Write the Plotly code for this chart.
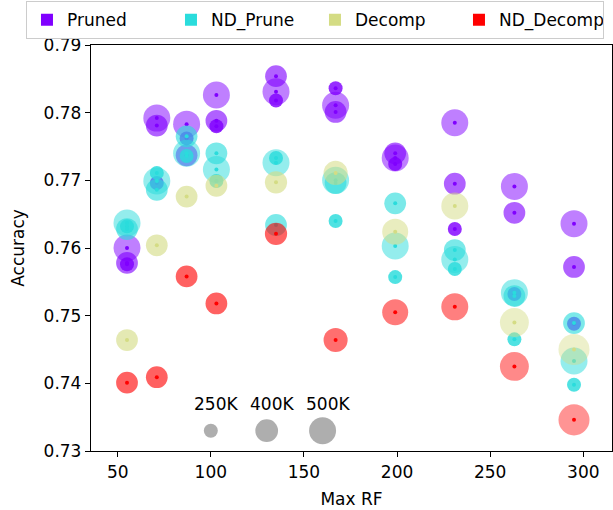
import numpy as np
import plotly.graph_objects as go

# ---------------- data ----------------
max_rf = [55, 71, 87, 103, 135, 167, 199, 231, 263, 295]

# Pruned: three configurations per Max RF (params in K)
pruned_x = [55, 55, 55, 71, 71, 71, 87, 87, 87, 103, 103, 103, 135, 135, 135,
            167, 167, 167, 199, 199, 199, 231, 231, 231, 263, 263, 263, 295, 295, 295]
pruned_acc = [0.7600, 0.7578, 0.7576, 0.7792, 0.7781, 0.7696, 0.7783, 0.7737, 0.7762,
              0.7826, 0.7788, 0.7780, 0.7831, 0.7854, 0.7818, 0.7811, 0.7801, 0.7836,
              0.7733, 0.7740, 0.7724, 0.7785, 0.7695, 0.7628, 0.7691, 0.7652, 0.7532,
              0.7636, 0.7572, 0.7488]
pruned_params = [500, 380, 250] * 10

nd_prune_x = pruned_x
nd_prune_acc = [0.7637, 0.7628, 0.7632, 0.7699, 0.7686, 0.7711, 0.7740, 0.7765, 0.7736,
                0.7716, 0.7740, 0.7699, 0.7726, 0.7634, 0.7733, 0.7700, 0.7696, 0.7640,
                0.7603, 0.7666, 0.7557, 0.7583, 0.7597, 0.7569, 0.7534, 0.7529, 0.7465,
                0.7433, 0.7489, 0.7398]
nd_prune_params = [500, 380, 250] * 10

decomp_acc = [0.7464, 0.7604, 0.7676, 0.7692, 0.7697, 0.7711, 0.7624, 0.7662, 0.7490, 0.7450]
nd_decomp_acc = [0.7401, 0.7409, 0.7558, 0.7518, 0.7621, 0.7464, 0.7505, 0.7513, 0.7425, 0.7346]
decomp_params = [380, 380, 380, 380, 390, 430, 475, 500, 550, 610]

series_names = ["Pruned", "ND_Prune", "Decomp", "ND_Decomp"]
series_colors = ["#8000ff", "#2adcdc", "#d4dc84", "#ff0000"]

size_legend_labels = ["250K", "400K", "500K"]
size_legend_params = [250, 400, 500]
size_legend_x = [100, 130, 160]
size_legend_y = 0.733

# ---------------- helpers ----------------
def diam(p):
    p = np.asarray(p, dtype=float)
    return np.sqrt(196 + 2.132 * (p - 250))

def alpha(p):
    d = diam(p)
    return np.interp(d, [14, 21.7, 27, 31], [0.82, 0.62, 0.5, 0.42])

FONT = "DejaVu Sans"
fig = go.Figure()

series = [
    (pruned_x, pruned_acc, pruned_params),
    (nd_prune_x, nd_prune_acc, nd_prune_params),
    (max_rf, decomp_acc, decomp_params),
    (max_rf, nd_decomp_acc, decomp_params),
]

for (xs, ys, ps), name, col in zip(series, series_names, series_colors):
    fig.add_trace(go.Scatter(
        x=xs, y=ys, mode="markers", showlegend=False, hoverinfo="skip",
        marker=dict(size=diam(ps), color=col, opacity=alpha(ps), line=dict(width=0)),
    ))
    fig.add_trace(go.Scatter(
        x=xs, y=ys, mode="markers", showlegend=False, hoverinfo="skip",
        marker=dict(size=4, color=col, line=dict(width=0)),
    ))

# legend entries
for name, col in zip(series_names, series_colors):
    fig.add_trace(go.Scatter(
        x=[None], y=[None], mode="markers", name=name,
        marker=dict(symbol="square", size=16, color=col),
    ))

# size legend
fig.add_trace(go.Scatter(
    x=size_legend_x, y=[size_legend_y] * 3, mode="markers", showlegend=False,
    hoverinfo="skip",
    marker=dict(size=diam(size_legend_params), color="#8c8c8c", line=dict(width=0)),
))
for lx, lab in zip(size_legend_x, size_legend_labels):
    fig.add_annotation(x=lx, y=0.7369, text=lab, showarrow=False, xshift=5,
                       font=dict(family=FONT, size=17, color="black"))

axis_common = dict(showline=True, linecolor="black", linewidth=1.3, mirror=True,
                   ticks="outside", ticklen=5, tickwidth=1.2, tickcolor="black",
                   showgrid=False, zeroline=False,
                   tickfont=dict(family=FONT, size=17, color="black"))

fig.update_layout(
    width=613, height=510,
    margin=dict(l=91, r=1, t=45, b=59, autoexpand=False),
    paper_bgcolor="white", plot_bgcolor="white",
    xaxis=dict(range=[35.67, 315.4], tickvals=[50, 100, 150, 200, 250, 300],
               title=dict(text="Max RF", font=dict(family=FONT, size=17, color="black"), standoff=12),
               **axis_common),
    yaxis=dict(range=[0.73, 0.79], tickvals=[0.73, 0.74, 0.75, 0.76, 0.77, 0.78, 0.79],
               tickformat=".2f",
               title=dict(text="Accuracy", font=dict(family=FONT, size=17, color="black"), standoff=14),
               **axis_common),
    legend=dict(orientation="h", x=-0.1248, y=1.108,
                xanchor="left", yanchor="top", bordercolor="#cccccc", borderwidth=1,
                bgcolor="white", font=dict(family=FONT, size=17, color="black"),
                itemsizing="constant", entrywidth=99),
    font=dict(family=FONT),
)

fig.write_html("out.html", post_script="document.body.style.margin='0';",
               config={"displayModeBar": False})
